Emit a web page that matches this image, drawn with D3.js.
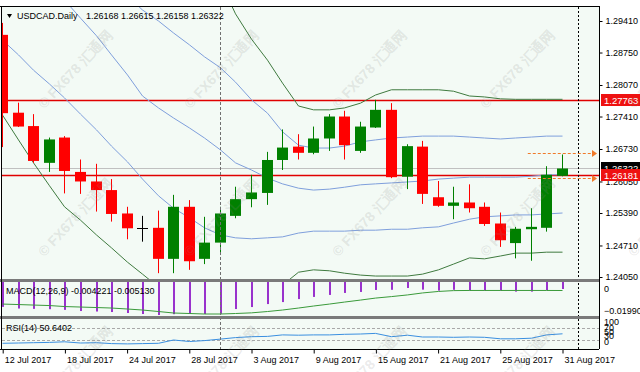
<!DOCTYPE html>
<html>
<head>
<meta charset="utf-8">
<script src="https://cdn.jsdelivr.net/npm/d3@7/dist/d3.min.js"></script>
<style>
  body { margin: 0; background: #ffffff; }
  text { font-family: "Liberation Sans", Arial, sans-serif; }
  .axis text { font-size: 9px; fill: #000; }
</style>
</head>
<body>
<div id="chart"></div>
<script>
// daily bars, USDCAD
const dates = ["12 Jul 2017", "13 Jul 2017", "14 Jul 2017", "17 Jul 2017", "18 Jul 2017", "19 Jul 2017",
    "20 Jul 2017", "21 Jul 2017", "24 Jul 2017", "25 Jul 2017", "26 Jul 2017", "27 Jul 2017", "28 Jul 2017",
    "31 Jul 2017", "1 Aug 2017", "2 Aug 2017", "3 Aug 2017", "4 Aug 2017", "7 Aug 2017", "8 Aug 2017",
    "9 Aug 2017", "10 Aug 2017", "11 Aug 2017", "14 Aug 2017", "15 Aug 2017", "16 Aug 2017", "17 Aug 2017",
    "18 Aug 2017", "21 Aug 2017", "22 Aug 2017", "23 Aug 2017", "24 Aug 2017", "25 Aug 2017", "28 Aug 2017",
    "29 Aug 2017", "30 Aug 2017", "31 Aug 2017"];

const open = [1.2912, 1.2749, 1.2721, 1.2644, 1.2697, 1.2625, 1.2605, 1.2587, 1.2538, 1.2508, 1.2508, 1.2443,
    1.2552, 1.2443, 1.2477, 1.2533, 1.2568, 1.2581, 1.2650, 1.2678, 1.2665, 1.2695, 1.2741, 1.2669, 1.2718,
    1.2755, 1.2615, 1.2678, 1.2572, 1.2554, 1.2561, 1.2552, 1.2517, 1.2476, 1.2505, 1.2508, 1.26168];
const high = [1.2937, 1.2770, 1.2746, 1.2697, 1.2700, 1.2651, 1.2642, 1.2610, 1.2552, 1.2533, 1.2544, 1.2577,
    1.2566, 1.2531, 1.2552, 1.2594, 1.2619, 1.2667, 1.2714, 1.2704, 1.2720, 1.2746, 1.2753, 1.2730, 1.2776,
    1.2769, 1.2683, 1.2690, 1.2606, 1.2594, 1.2599, 1.2561, 1.2540, 1.2510, 1.2549, 1.2637, 1.26615];
const low = [1.2677, 1.2719, 1.2644, 1.2625, 1.2580, 1.2579, 1.2542, 1.2521, 1.2484, 1.2479, 1.2413, 1.2413,
    1.2420, 1.2432, 1.2451, 1.2528, 1.2551, 1.2556, 1.2629, 1.2651, 1.2662, 1.2669, 1.2651, 1.2665, 1.2717,
    1.2612, 1.2589, 1.2558, 1.2552, 1.2526, 1.2540, 1.2512, 1.2468, 1.2444, 1.2439, 1.2500, 1.26158];
const close = [1.2748, 1.2720, 1.2648, 1.2693, 1.2627, 1.2605, 1.2587, 1.2537, 1.2507, 1.2508, 1.2443, 1.2552,
    1.2438, 1.2477, 1.2538, 1.2568, 1.2582, 1.2650, 1.2676, 1.2665, 1.2695, 1.2741, 1.2681, 1.2720, 1.2755,
    1.2614, 1.2679, 1.2579, 1.2554, 1.2561, 1.2549, 1.2516, 1.2482, 1.2506, 1.2510, 1.2619, 1.26322];

// band lines (blue inner pair + middle, green outer pair)
const bbMid = [1.3150, 1.3109, 1.3067, 1.3025, 1.2985, 1.2947, 1.2910, 1.2870, 1.2828, 1.2784, 1.2759, 1.2738,
    1.2717, 1.2696, 1.2671, 1.2644, 1.2629, 1.2612, 1.2600, 1.2591, 1.2587, 1.2589, 1.2593, 1.2598, 1.2600,
    1.2602, 1.2604, 1.2606, 1.2610, 1.2612, 1.2614, 1.2614, 1.2614, 1.2614, 1.2616, 1.2619, 1.2619];
const bbUp1 = [1.3194, 1.3169, 1.3144, 1.3119, 1.3094, 1.3069, 1.3044, 1.3019, 1.2993, 1.2964, 1.2941, 1.2916,
    1.2891, 1.2866, 1.2843, 1.2813, 1.2776, 1.2748, 1.2709, 1.2681, 1.2675, 1.2675, 1.2679, 1.2688, 1.2692,
    1.2696, 1.2698, 1.2700, 1.2700, 1.2700, 1.2698, 1.2696, 1.2694, 1.2696, 1.2698, 1.2700, 1.2700];
const bbLow1 = [1.2901, 1.2870, 1.2838, 1.2809, 1.2780, 1.2746, 1.2713, 1.2679, 1.2646, 1.2610, 1.2575, 1.2549,
    1.2529, 1.2508, 1.2493, 1.2487, 1.2485, 1.2487, 1.2489, 1.2497, 1.2501, 1.2501, 1.2501, 1.2503, 1.2503,
    1.2505, 1.2505, 1.2508, 1.2510, 1.2518, 1.2526, 1.2531, 1.2533, 1.2535, 1.2535, 1.2537, 1.2539];
const bbUp2 = [1.3557, 1.3525, 1.3490, 1.3454, 1.3418, 1.3370, 1.3326, 1.3274, 1.3211, 1.3144, 1.3130, 1.3109,
    1.3088, 1.3060, 1.3023, 1.2956, 1.2903, 1.2859, 1.2811, 1.2763, 1.2755, 1.2755, 1.2759, 1.2769, 1.2786,
    1.2797, 1.2797, 1.2797, 1.2797, 1.2794, 1.2784, 1.2782, 1.2778, 1.2777, 1.2777, 1.2777, 1.2777];
const bbLow2 = [1.2744, 1.2692, 1.2644, 1.2596, 1.2552, 1.2524, 1.2493, 1.2466, 1.2436, 1.2411, 1.2384, 1.2367,
    1.2346, 1.2332, 1.2319, 1.2332, 1.2355, 1.2365, 1.2388, 1.2415, 1.2420, 1.2418, 1.2413, 1.2409, 1.2407,
    1.2407, 1.2407, 1.2411, 1.2420, 1.2432, 1.2445, 1.2443, 1.2449, 1.2455, 1.2455, 1.2457, 1.2457];

// MACD(12,26,9)
const macdHist = [-0.0150, -0.0160, -0.0162, -0.0164, -0.0168, -0.0175, -0.0178, -0.0181, -0.0187, -0.0193,
    -0.0199, -0.0194, -0.0193, -0.0193, -0.0192, -0.0163, -0.0151, -0.0133, -0.0121, -0.0103, -0.0090, -0.0078,
    -0.0066, -0.0060, -0.0048, -0.0047, -0.0036, -0.0046, -0.0052, -0.0047, -0.0052, -0.0052, -0.0052, -0.0058,
    -0.0058, -0.0050, -0.004221];
const macdSignal = [-0.0133, -0.0136, -0.0139, -0.0142, -0.0148, -0.0151, -0.0154, -0.0157, -0.0163, -0.0169,
    -0.0178, -0.0187, -0.0190, -0.0193, -0.0193, -0.0190, -0.0186, -0.0178, -0.0169, -0.0157, -0.0145, -0.0133,
    -0.0121, -0.0109, -0.0097, -0.0088, -0.0078, -0.0066, -0.0057, -0.0052, -0.0051, -0.0051, -0.0051, -0.0051,
    -0.0051, -0.0051, -0.005130];

// RSI(14)
const rsi = [19, 20, 21, 22, 24, 20, 21, 18, 17, 18, 19, 30, 25, 28, 33, 38, 41, 42, 47, 46, 47, 47, 49, 50,
    52, 41, 46, 40, 40, 39, 40, 39, 34, 34, 36, 47, 50.6402];

// axis labels and levels
const priceTicks = [1.29410, 1.28750, 1.28070, 1.27410, 1.26730, 1.26050, 1.25390, 1.24710, 1.24050];
const redLevels = [1.27763, 1.26181];
const bidPrice = 1.26322;
const arrowLevels = [1.26650, 1.26120];
const arrowFrom = 33.8;
const monthStarts = [14, 37];
const rsiLevels = [70, 30];
const rsiTicks = [100, 70, 50, 30, 0];
const macdTicks = [0, -0.019909];

const width = 640;
const height = 372;
const plotLeft = 2;
const plotRight = 599;
const main = {top: 7, bottom: 279};
const macdBox = {top: 282, bottom: 316};
const rsiBox = {top: 319, bottom: 349};

const bullColor = "#008000";
const bearColor = "#ff0000";

const svg = d3.select("#chart")
    .append("svg")
    .attr("width", width)
    .attr("height", height);

svg.append("rect")
    .attr("width", width)
    .attr("height", height)
    .attr("fill", "#ffffff");

svg.append("rect")
    .attr("x", plotLeft)
    .attr("y", main.top)
    .attr("width", plotRight - plotLeft)
    .attr("height", rsiBox.bottom - main.top)
    .attr("fill", "#f3faf5");

const xScale = d3.scaleLinear()
    .domain([0, 37])
    .range([2.2, 2.2 + 15.55 * 37]);

const yPrice = d3.scaleLinear()
    .domain([1.24050, 1.29410])
    .range([277, 21]);

const yMacd = d3.scaleLinear()
    .domain([-0.0199, 0])
    .range([315, macdBox.top]);

const yRsi = d3.scaleLinear()
    .domain([0, 100])
    .range([rsiBox.bottom, rsiBox.top]);

const cx = i => Math.round(xScale(i));

// clip regions for each panel
const defs = svg.append("defs");
[["clip-main", main], ["clip-macd", macdBox], ["clip-rsi", rsiBox]].forEach(function(c) {
    defs.append("clipPath").attr("id", c[0])
        .append("rect")
        .attr("x", plotLeft)
        .attr("y", c[1].top)
        .attr("width", plotRight - plotLeft)
        .attr("height", c[1].bottom - c[1].top);
});

const gMain = svg.append("g").attr("clip-path", "url(#clip-main)");
const gMacd = svg.append("g").attr("clip-path", "url(#clip-macd)");
const gRsi = svg.append("g").attr("clip-path", "url(#clip-rsi)");

// month separators
monthStarts.forEach(function(m, k) {
    svg.append("line")
        .attr("x1", cx(m) + 0.5)
        .attr("x2", cx(m) + 0.5)
        .attr("y1", main.top)
        .attr("y2", rsiBox.bottom)
        .attr("stroke", k === 0 ? "#707070" : "#000000")
        .attr("stroke-width", 1)
        .attr("stroke-dasharray", k === 0 ? "3,2" : "2,2");
});

// horizontal levels
gMain.append("line")
    .attr("x1", plotLeft).attr("x2", plotRight)
    .attr("y1", Math.round(yPrice(bidPrice)) + 0.5)
    .attr("y2", Math.round(yPrice(bidPrice)) + 0.5)
    .attr("stroke", "#c0c0c0");

redLevels.forEach(function(v) {
    gMain.append("line")
        .attr("x1", plotLeft).attr("x2", plotRight)
        .attr("y1", Math.round(yPrice(v)) + 0.5)
        .attr("y2", Math.round(yPrice(v)) + 0.5)
        .attr("stroke", "#e00000")
        .attr("stroke-width", 1.3);
});

// band lines
const priceLine = d3.line()
    .x((d, i) => cx(i) + 0.5)
    .y(d => yPrice(d));

[[bbUp1, "#7f9fdc"], [bbMid, "#7f9fdc"], [bbLow1, "#7f9fdc"], [bbUp2, "#3f7a3f"], [bbLow2, "#3f7a3f"]]
    .forEach(function(b) {
        gMain.append("path")
            .datum(b[0])
            .attr("d", priceLine)
            .attr("fill", "none")
            .attr("stroke", b[1])
            .attr("stroke-width", 1);
    });

// candles
const bars = dates.map((d, i) => ({i: i, o: open[i], h: high[i], l: low[i], c: close[i]}));
const candleColor = d => d.c > d.o ? bullColor : (d.c < d.o ? bearColor : "#000000");

gMain.selectAll(".wick")
    .data(bars)
    .enter()
    .append("line")
        .attr("class", "wick")
        .attr("x1", d => cx(d.i) + 0.5)
        .attr("x2", d => cx(d.i) + 0.5)
        .attr("y1", d => yPrice(d.h))
        .attr("y2", d => yPrice(d.l))
        .attr("stroke", candleColor);

gMain.selectAll(".body")
    .data(bars.filter(d => d.c !== d.o))
    .enter()
    .append("rect")
        .attr("class", "body")
        .attr("x", d => cx(d.i) - 5)
        .attr("width", 11)
        .attr("y", d => yPrice(Math.max(d.o, d.c)))
        .attr("height", d => Math.max(1, Math.abs(yPrice(d.o) - yPrice(d.c))))
        .attr("fill", candleColor);

gMain.selectAll(".doji")
    .data(bars.filter(d => d.c === d.o))
    .enter()
    .append("line")
        .attr("class", "doji")
        .attr("x1", d => cx(d.i) - 5)
        .attr("x2", d => cx(d.i) + 6)
        .attr("y1", d => Math.round(yPrice(d.o)) + 0.5)
        .attr("y2", d => Math.round(yPrice(d.o)) + 0.5)
        .attr("stroke", "#000000");

// dashed orange arrows at the right
arrowLevels.forEach(function(v) {
    const y = Math.round(yPrice(v)) + 0.5;
    svg.append("line")
        .attr("x1", xScale(arrowFrom)).attr("x2", 592)
        .attr("y1", y).attr("y2", y)
        .attr("stroke", "#f07a2a")
        .attr("stroke-dasharray", "3,2");
    svg.append("path")
        .attr("d", `M592,${y - 3.5}L597,${y}L592,${y + 3.5}Z`)
        .attr("fill", "#f07a2a");
});

// MACD panel
gMacd.selectAll(".hist")
    .data(macdHist)
    .enter()
    .append("rect")
        .attr("class", "hist")
        .attr("x", (d, i) => cx(i))
        .attr("width", 2)
        .attr("y", yMacd(0))
        .attr("height", d => yMacd(d) - yMacd(0))
        .attr("fill", "#9932cc");

gMacd.append("path")
    .datum(macdSignal)
    .attr("d", d3.line().x((d, i) => cx(i) + 0.5).y(d => yMacd(d)))
    .attr("fill", "none")
    .attr("stroke", "#3a9a3a");

// RSI panel
rsiLevels.forEach(function(v) {
    gRsi.append("line")
        .attr("x1", plotLeft).attr("x2", plotRight)
        .attr("y1", Math.round(yRsi(v)) + 0.5)
        .attr("y2", Math.round(yRsi(v)) + 0.5)
        .attr("stroke", "#a8a8a8")
        .attr("stroke-dasharray", "3,2");
});

gRsi.append("path")
    .datum(rsi)
    .attr("d", d3.line().x((d, i) => cx(i) + 0.5).y(d => yRsi(d)))
    .attr("fill", "none")
    .attr("stroke", "#3a8fe0");

// panel separators and frame
[[main.bottom, 3], [macdBox.bottom, 3]].forEach(function(s) {
    svg.append("rect")
        .attr("x", 0)
        .attr("y", s[0])
        .attr("width", plotRight)
        .attr("height", s[1])
        .attr("fill", "#7a7a7a");
});

svg.append("line")
    .attr("x1", 0).attr("x2", plotRight + 1)
    .attr("y1", 6.5).attr("y2", 6.5)
    .attr("stroke", "#000000");

svg.append("line")
    .attr("x1", 1.5).attr("x2", 1.5)
    .attr("y1", 6).attr("y2", rsiBox.bottom)
    .attr("stroke", "#000000");

// price axis
const priceAxis = svg.append("g")
    .attr("class", "axis")
    .attr("transform", `translate(${plotRight + 0.5},0)`)
    .call(d3.axisRight(yPrice).tickValues(priceTicks).tickFormat(d3.format(".5f")).tickSize(3).tickPadding(3));

priceAxis.select(".domain")
    .attr("d", `M0,6V${rsiBox.bottom}`)
    .attr("stroke", "#000000");

// price labels on the axis
function axisTag(v, fill) {
    const y = Math.round(yPrice(v));
    svg.append("rect")
        .attr("x", plotRight + 2)
        .attr("y", y - 6)
        .attr("width", width - plotRight - 2)
        .attr("height", 12)
        .attr("fill", fill);
    svg.append("text")
        .attr("x", plotRight + 5)
        .attr("y", y + 3.5)
        .attr("font-size", 9.5)
        .attr("fill", "#ffffff")
        .text(d3.format(".5f")(v));
}

axisTag(bidPrice, "#000000");
redLevels.forEach(v => axisTag(v, "#ee1111"));

// sub-window scale labels
svg.append("text")
    .attr("x", plotRight + 5)
    .attr("y", yMacd(macdTicks[0]) + 10)
    .attr("font-size", 9)
    .text(macdTicks[0]);

svg.append("text")
    .attr("x", plotRight + 5)
    .attr("y", yMacd(macdTicks[1]) - 1)
    .attr("font-size", 9)
    .text(d3.format(".6f")(macdTicks[1]));

svg.selectAll(".rsitick")
    .data(rsiTicks)
    .enter()
    .append("text")
        .attr("class", "rsitick")
        .attr("x", plotRight + 5)
        .attr("y", d => rsiBox.top + 6 + (100 - d) / 100 * 20)
        .attr("font-size", 9)
        .text(d => d);

// date axis
const dateAxis = svg.append("g")
    .attr("class", "axis")
    .attr("transform", `translate(0,${rsiBox.bottom + 0.5})`)
    .call(d3.axisBottom(xScale)
        .tickValues(d3.range(0, dates.length, 4))
        .tickFormat(i => dates[i])
        .tickSize(4)
        .tickPadding(3));

dateAxis.select(".domain")
    .attr("d", `M0,0H${plotRight}`)
    .attr("stroke", "#000000");

dateAxis.selectAll(".tick line")
    .attr("transform", "translate(0.5,0)");

dateAxis.selectAll(".tick text")
    .attr("text-anchor", "start")
    .attr("x", 2);

// window titles
svg.append("path")
    .attr("d", "M7,14L12,14L9.5,18Z")
    .attr("fill", "#000000");

svg.append("text")
    .attr("x", 17)
    .attr("y", 19)
    .attr("font-size", 9)
    .text("USDCAD.Daily");

svg.append("text")
    .attr("x", 86)
    .attr("y", 19)
    .attr("font-size", 9)
    .text([open, high, low, close].map(a => d3.format(".5f")(a[a.length - 1])).join(" "));

svg.append("text")
    .attr("x", 6)
    .attr("y", 294)
    .attr("font-size", 9)
    .text(`MACD(12,26,9) ${macdHist[macdHist.length - 1].toFixed(6)} ${macdSignal[macdSignal.length - 1].toFixed(6)}`);

svg.append("text")
    .attr("x", 6)
    .attr("y", 331)
    .attr("font-size", 9)
    .text(`RSI(14) ${rsi[rsi.length - 1].toFixed(4)}`);

// watermark
const markCols = [76, 222, 370, 518, 666];
const markRows = [70, 218, 366];
markRows.forEach(function(y) {
    markCols.forEach(function(x) {
        svg.append("text")
            .attr("transform", `translate(${x},${y}) rotate(-47)`)
            .attr("text-anchor", "middle")
            .attr("dominant-baseline", "middle")
            .attr("font-size", 14)
            .attr("font-weight", "bold")
            .attr("font-family", "'Liberation Sans','Noto Sans CJK SC',sans-serif")
            .attr("fill", "#888888")
            .attr("fill-opacity", 0.18)
            .text("© FX678 汇通网");
    });
});
</script>
</body>
</html>
